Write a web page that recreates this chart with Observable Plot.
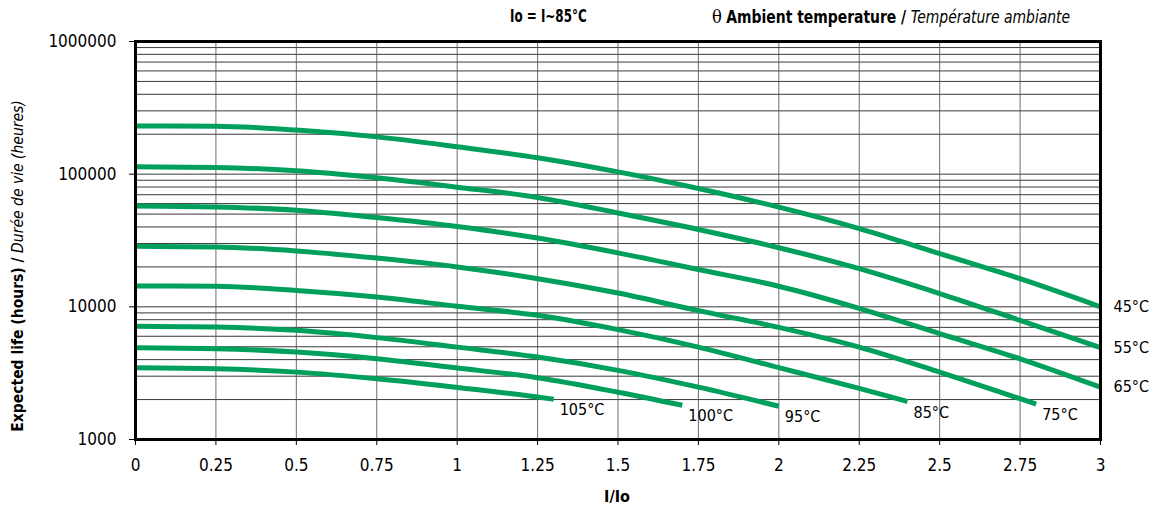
<!DOCTYPE html>
<html>
<head>
<meta charset="utf-8">
<script src="https://cdn.jsdelivr.net/npm/d3@7"></script>
<script src="https://cdn.jsdelivr.net/npm/@observablehq/plot@0.6"></script>
<style>
  body { margin: 0; background: #fff; }
  #wrap { position: relative; width: 1156px; height: 512px; font-family: "DejaVu Sans Condensed", "DejaVu Sans", sans-serif; font-stretch: condensed; color: #000; }
  .ov { position: absolute; white-space: nowrap; }
  #chart { position: absolute; left: 0; top: 0; }
</style>
</head>
<body>
<div id="wrap">
  <div id="chart"></div>
  <div class="ov" style="left:510px; top:6px; font-size:17px; font-weight:bold; transform-origin: left center; transform: scaleX(0.78);">Io = I~85°C</div>
  <div class="ov" style="left:712px; top:6px; font-size:17px; transform-origin: left center; transform: scaleX(0.91);"><span style="font-family:'DejaVu Serif',serif;font-stretch:normal;font-size:18px;">θ</span> <b>Ambient temperature /</b> <i>Température ambiante</i></div>
  <div class="ov" style="left:18px; top:266px; font-size:15.5px; transform: translate(-50%,-50%) rotate(-90deg);"><b>Expected life (hours) /</b> <i>Durée de vie (heures)</i></div>
  <div class="ov" style="left:617px; top:496px; font-size:16px; font-weight:bold; transform: translate(-50%,-50%);">I/Io</div>
</div>
<script>
// ---- data ----
const currentRatio = [0, 0.25, 0.5, 0.75, 1, 1.25, 1.5, 1.75, 2, 2.25, 2.5, 2.75, 3];
const temps = ["45°C", "55°C", "65°C", "75°C", "85°C", "95°C", "100°C", "105°C"];
const endRatio = [3, 3, 3, 2.8, 2.4, 2, 1.7, 1.3];
const life45  = [231000, 230000, 215000, 191000, 161000, 133000, 104000, 78000, 56400, 38900, 25200, 16300, 10000];
const life55  = [113600, 112300, 105900, 93800, 79800, 66700, 51000, 38300, 27900, 19400, 12600, 7900, 4920];
const life65  = [57600, 56600, 53500, 47100, 40300, 33000, 25500, 19100, 14300, 9740, 6280, 4060, 2480];
const life75  = [28600, 28300, 26400, 23300, 20000, 16300, 12700, 9360, 7000, 4970, 3220, 2030, 1850];
const life85  = [14350, 14300, 13300, 11860, 10100, 8630, 6730, 4970, 3480, 2430, 1935];
const life95  = [7130, 7040, 6650, 5860, 4970, 4180, 3320, 2480, 1780];
const life100 = [4920, 4840, 4560, 4060, 3460, 2920, 2270, 1810];
const life105 = [3480, 3420, 3220, 2870, 2470, 2090, 2010];
const yTicks = [1000, 10000, 100000, 1000000];
const xTicks = currentRatio;

const series = [life45, life55, life65, life75, life85, life95, life100, life105];
const rows = series.flatMap((vals, s) => vals.map((v, i) => ({
  temp: temps[s],
  x: i === vals.length - 1 ? endRatio[s] : currentRatio[i],
  y: v
})));
const ends = series.map((vals, s) => ({temp: temps[s], x: endRatio[s], y: vals[vals.length - 1]}));
const yGrid = [];
for (let e = 3; e < 6; e++) for (let m = 1; m < 10; m++) yGrid.push(m * Math.pow(10, e));
yGrid.push(1e6);

const green = "#00a05c";
const labelFont = "'DejaVu Sans Condensed', 'DejaVu Sans', sans-serif";
const chart = Plot.plot({
  width: 1156,
  height: 512,
  marginTop: 41,
  marginBottom: 73,
  marginLeft: 135,
  marginRight: 56,
  style: {fontFamily: "'DejaVu Sans', sans-serif", fontSize: "17px", color: "#000", background: "#fff"},
  x: {domain: [0, 3]},
  y: {type: "log", domain: [1000, 1000000]},
  marks: [
    Plot.gridY(yGrid, {stroke: "#222", strokeOpacity: 0.9, strokeWidth: 1}),
    Plot.gridX(xTicks, {stroke: "#555", strokeOpacity: 0.85, strokeWidth: 1}),
    Plot.line(rows, {x: "x", y: "y", z: "temp", stroke: green, strokeWidth: 5, curve: "monotone-x", strokeLinecap: "butt"}),
    Plot.text(ends.filter(d => d.x === 3), {x: "x", y: "y", text: "temp", textAnchor: "start", dx: 13, fill: "#000", fontFamily: labelFont, fontSize: 16}),
    Plot.text(ends.filter(d => d.x < 3), {x: "x", y: "y", text: "temp", textAnchor: "start", dx: 6, dy: 11, fill: "#000", fontFamily: labelFont, fontSize: 16}),
    Plot.frame({stroke: "#000", strokeWidth: 3}),
    Plot.axisY({ticks: yTicks, tickFormat: d => String(d), tickSize: 6, tickPadding: 13, label: null}),
    Plot.axisX({ticks: xTicks, tickFormat: d => String(d), tickSize: 6, tickPadding: 13, label: null})
  ]
});
document.getElementById("chart").appendChild(chart);
</script>
</body>
</html>
